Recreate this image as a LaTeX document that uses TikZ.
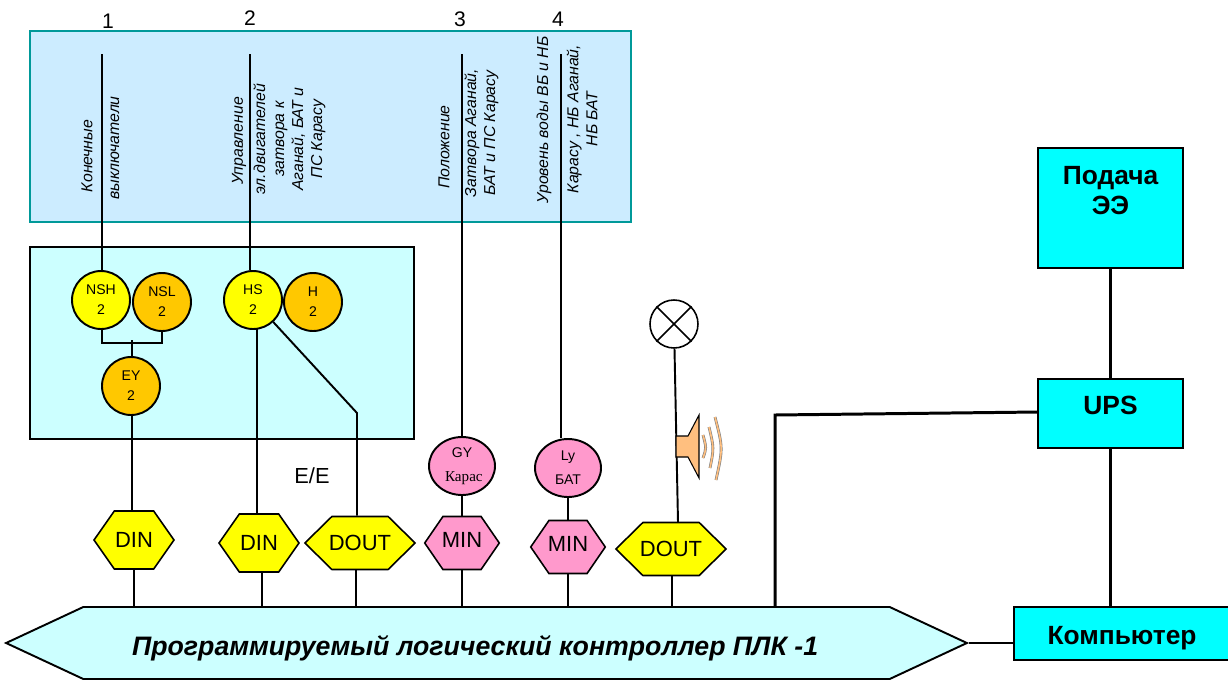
\documentclass[tikz,border=0pt]{standalone}
\usepackage{fontspec}
\setmainfont{Liberation Sans}
\newfontfamily\timesfont{Liberation Serif}
\usetikzlibrary{shapes.geometric,shapes.symbols}
\definecolor{roomblue}{HTML}{CCECFF}
\definecolor{roomedge}{HTML}{009999}
\definecolor{panelcyan}{HTML}{CCFFFF}
\definecolor{boxcyan}{HTML}{00FFFF}
\definecolor{signyellow}{HTML}{FFFF00}
\definecolor{signorange}{HTML}{FFC800}
\definecolor{signpink}{HTML}{FF99CC}
\definecolor{hornorange}{HTML}{FFBF7F}
\tikzset{
  wire/.style={line width=1.1pt},
  powerwire/.style={line width=1.7pt},
  sigtext/.style={rotate=90,inner sep=0pt,align=center,font=\fontsize{9}{10.8}\selectfont\itshape},
  numtext/.style={inner sep=0pt,font=\fontsize{12}{14}\selectfont},
  instr/.style={circle,draw,line width=1.1pt,minimum size=1.16cm,inner sep=0pt,align=center,font=\fontsize{8}{11.3}\selectfont},
  instrel/.style={ellipse,draw,line width=1.1pt,fill=signpink,minimum width=1.32cm,minimum height=1.16cm,inner sep=0pt,align=center,font=\fontsize{8}{13.6}\selectfont},
  hexnode/.style={signal,signal to=west and east,draw,line width=0.9pt,inner sep=0pt,font=\fontsize{12.5}{14}\selectfont},
  din/.style={hexnode,fill=signyellow,minimum width=1.6cm,minimum height=1.16cm,signal pointer angle=110},
  dout/.style={hexnode,fill=signyellow,minimum width=2.04cm,minimum height=1.06cm,signal pointer angle=89,inner xsep=-1.7pt},
  minhex/.style={hexnode,fill=signpink,minimum width=1.40cm,minimum height=1.06cm,signal pointer angle=111,text depth=3.4pt,inner xsep=-0.6pt},
  powerbox/.style={rectangle,draw,line width=1.1pt,fill=boxcyan,inner sep=0pt,align=center,font=\fontsize{15}{17}\selectfont\bfseries}
}
\begin{document}
\begin{tikzpicture}[x=0.02cm,y=-0.02cm]
\useasboundingbox (0,0) rectangle (1228,680);
\node[rectangle,draw=roomedge,fill=roomblue,line width=1.1pt,minimum width=12.02cm,minimum height=3.82cm] (room) at (330.5,126.5) {};
\node[rectangle,draw,fill=panelcyan,line width=1.1pt,minimum width=7.68cm,minimum height=3.84cm] (panel) at (222,343) {};
\node[numtext] (num1) at (108,21) {1};
\node[numtext] (num2) at (250,18) {2};
\node[numtext] (num3) at (460,19) {3};
\node[numtext] (num4) at (558,19) {4};
\node[sigtext] (txta) at (87,156) {Конечные};
\node[sigtext] (txtb) at (115,148) {выключатели};
\node[sigtext] (txtc) at (239,141) {Управление};
\node[sigtext] (txtd) at (289.5,139) {эл.двигателей\\затвора к\\Аганай, БАТ и\\ПС Карасу};
\node[sigtext] (txte) at (444,147) {Положение};
\node[sigtext] (txtf) at (481.5,133) {Затвора Аганай,\\БАТ и ПС Карасу};
\node[sigtext] (txtg) at (544,120) {Уровень воды ВБ и НБ};
\node[sigtext] (txth) at (582,119) {Карасу , НБ Аганай,\\НБ БАТ};
\node[instr,fill=signyellow] (nsh) at (101,300) {NSH\\2};
\node[instr,fill=signorange] (nsl) at (162,302) {NSL\\2};
\node[instr,fill=signyellow] (hs) at (253,300) {HS\\2};
\node[instr,fill=signorange] (h) at (313,302) {H\\2};
\node[instr,fill=signorange] (ey) at (131,386) {EY\\2};
\node[instrel] (gy) at (462,466) {GY\\{\timesfont\fontsize{8.6}{13.6}\selectfont\ Карас}};
\node[instrel] (ly) at (568,468) {Ly\\БАТ};
\node[din] (din1) at (134,540) {DIN};
\node[din] (din2) at (259,543) {DIN};
\node[dout] (dout1) at (360,543) {DOUT};
\node[minhex] (min1) at (462,543) {MIN};
\node[minhex] (min2) at (568,547) {MIN};
\node[dout] (dout2) at (671,549) {DOUT};
\node[inner sep=0pt,font=\fontsize{12.4}{14}\selectfont] (ee) at (312,476) {E/E};
\node[signal,signal to=west and east,signal pointer angle=50,draw,line width=1.1pt,fill=panelcyan,inner sep=0pt,minimum width=19.22cm,minimum height=1.44cm,text height=17pt,font=\fontsize{15.2}{17}\selectfont\bfseries\itshape] (plc) at (486.5,643) {Программируемый логический контроллер ПЛК -1\kern13pt};
\node[powerbox,minimum width=4.32cm,minimum height=1.06cm,text height=15.5pt] (pc) at (1122,633.5) {Компьютер};
\node[powerbox,minimum width=2.9cm,minimum height=1.38cm,text depth=9.6pt] (ups) at (1110.5,413.5) {UPS};
\node[powerbox,minimum width=2.9cm,minimum height=2.4cm,text depth=20pt] (feed) at (1110.5,208) {Подача\\ЭЭ};
\node[circle,draw,fill=white,line width=0.9pt,minimum size=0.96cm,inner sep=0pt] (lamp) at (674,324) {};
\draw[line width=0.9pt] (lamp.north west) -- (lamp.south east);
\draw[line width=0.9pt] (lamp.north east) -- (lamp.south west);
\coordinate (top1) at (102,54);
\coordinate (top2) at (250,54);
\coordinate (top3) at (462,54);
\coordinate (top4) at (561,54);
\coordinate (nshfoot) at (102,343);
\coordinate (nslfoot) at (162,343);
\coordinate (eyfeed) at (132,340);
\coordinate (hsdrop) at (257,329);
\coordinate (hsbend) at (357,413);
\coordinate (din2foot) at (262,572);
\coordinate (dout1foot) at (356,570);
\coordinate (hornfoot) at (678,522);
\coordinate (dout2foot) at (672,575);
\coordinate (upscorner) at (775,415);
\coordinate (upstap) at (1038,412);
\draw[wire] (top1) -- (top1 |- nsh.north);
\draw[wire] (top2) -- (top2 |- hs.north);
\draw[wire] (top3) -- (top3 |- gy.north);
\draw[wire] (top4) -- (top4 |- ly.north);
\draw[wire] (nsh.south -| nshfoot) -- (nshfoot) -- (nslfoot) -- (nsl.south);
\draw[wire] (eyfeed) -- (eyfeed |- ey.north);
\draw[wire] (ey.south -| eyfeed) -- (din1.north -| eyfeed);
\draw[wire] (din1.south) -- (din1.south |- plc.north);
\draw[wire] (hsdrop) -- (hsdrop |- din2.north);
\draw[wire] (din2foot) -- (din2foot |- plc.north);
\draw[wire] (hs) -- (hsbend) -- (hsbend |- dout1.north);
\draw[wire] (dout1foot) -- (dout1foot |- plc.north);
\draw[wire] (gy.south) -- (min1.north);
\draw[wire] (min1.south) -- (min1.south |- plc.north);
\draw[wire] (ly.south) -- (min2.north);
\draw[wire] (min2.south) -- (min2.south |- plc.north);
\draw[wire] (lamp) -- (hornfoot);
\draw[wire] (dout2foot) -- (dout2foot |- plc.north);
\draw[line width=0.7pt] (plc.east) -- (plc.east -| pc.west);
\draw[powerwire] (upstap) -- (upscorner) -- (upscorner |- plc.north);
\draw[powerwire] (feed) -- (ups);
\draw[powerwire] (ups) -- (ups |- pc.north);
\filldraw[fill=hornorange,line width=0.6pt] (676,436) -- (688,436) -- (699,415) -- (699,478) -- (688,457) -- (676,457) -- cycle;
\foreach \wa/\wb/\wm/\wc/\wd in {703/435/706.5/703/458,709/427/714/710/468,715/417/723/716/480}{
  \draw[gray,line width=1.6pt] (\wa,\wb) .. controls (\wm,448) .. (\wc,\wd);
  \draw[hornorange,line width=0.9pt] (\wa,\wb) .. controls (\wm,448) .. (\wc,\wd);
}
\end{tikzpicture}
\end{document}
